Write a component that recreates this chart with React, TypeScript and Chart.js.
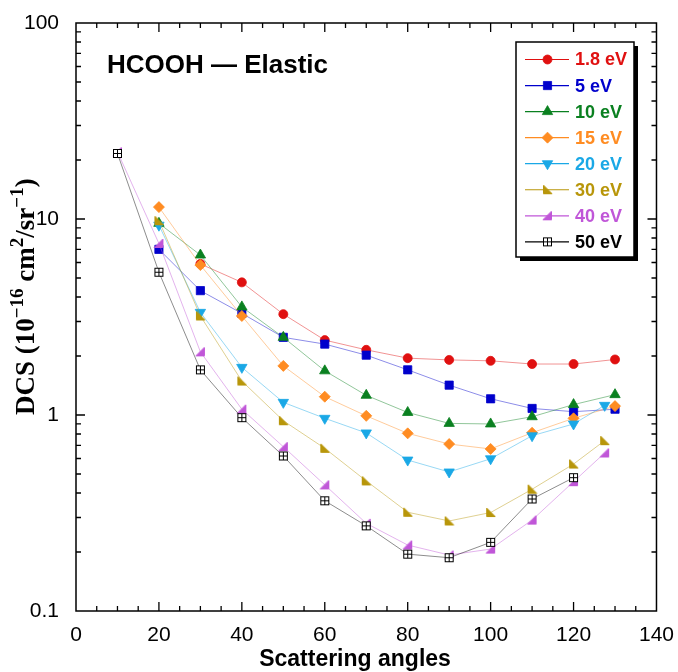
import React, { useEffect, useRef } from 'react';
import { Chart, registerables } from 'chart.js';
import { drawPoint } from 'chart.js/helpers';

Chart.register(...registerables);

// ---- data ----
const angles_1_8 = [30, 40, 50, 60, 70, 80, 90, 100, 110, 120, 130];
const dcs_1_8 = [5.9, 4.75, 3.27, 2.41, 2.15, 1.95, 1.91, 1.89, 1.82, 1.82, 1.92];

const angles_5 = [20, 30, 40, 50, 60, 70, 80, 90, 100, 110, 120, 130];
const dcs_5 = [7.0, 4.31, 3.3, 2.49, 2.3, 2.02, 1.7, 1.42, 1.21, 1.08, 1.04, 1.07];

const angles_10 = [20, 30, 40, 50, 60, 70, 80, 90, 100, 110, 120, 130];
const dcs_10 = [9.5, 6.55, 3.56, 2.49, 1.68, 1.26, 1.03, 0.906, 0.9, 0.98, 1.13, 1.27];

const angles_15 = [20, 30, 40, 50, 60, 70, 80, 90, 100, 110, 120, 130];
const dcs_15 = [11.5, 5.82, 3.2, 1.78, 1.24, 0.99, 0.806, 0.711, 0.671, 0.812, 0.962, 1.11];

const angles_20 = [20, 30, 40, 50, 60, 70, 80, 90, 100, 110, 120, 127.5];
const dcs_20 = [9.3, 3.34, 1.75, 1.16, 0.962, 0.81, 0.589, 0.512, 0.598, 0.784, 0.9, 1.12];

const angles_30 = [20, 30, 40, 50, 60, 70, 80, 90, 100, 110, 120, 127.5];
const dcs_30 = [9.8, 3.2, 1.49, 0.935, 0.676, 0.461, 0.319, 0.288, 0.318, 0.418, 0.562, 0.74];

const angles_40 = [10, 20, 30, 40, 50, 60, 70, 80, 90, 100, 110, 120, 127.5];
const dcs_40 = [22, 7.5, 2.1, 1.07, 0.689, 0.44, 0.28, 0.217, 0.193, 0.207, 0.291, 0.457, 0.64];

const angles_50 = [10, 20, 30, 40, 50, 60, 70, 80, 90, 100, 110, 120];
const dcs_50 = [21.6, 5.35, 1.7, 0.969, 0.618, 0.365, 0.272, 0.195, 0.187, 0.224, 0.373, 0.479];

const seriesLabels = ['1.8 eV', '5 eV', '10 eV', '15 eV', '20 eV', '30 eV', '40 eV', '50 eV'];
const seriesAngles = [angles_1_8, angles_5, angles_10, angles_15, angles_20, angles_30, angles_40, angles_50];
const seriesValues = [dcs_1_8, dcs_5, dcs_10, dcs_15, dcs_20, dcs_30, dcs_40, dcs_50];
const seriesColors = ['#e01010', '#0000cc', '#0a8020', '#ff8c22', '#1aa8e6', '#b8960a', '#c056d8', '#000000'];

const xTickValues = [0, 20, 40, 60, 80, 100, 120, 140];
const yTickValues = [0.1, 1, 10, 100];

const titleText = 'HCOOH \u2014 Elastic';
const xTitle = 'Scattering angles';

function rgba(hex: string, a: number) {
  const n = parseInt(hex.slice(1), 16);
  return `rgba(${(n >> 16) & 255},${(n >> 8) & 255},${n & 255},${a})`;
}

function makeMarker(kind: string, color: string): HTMLCanvasElement {
  const c = document.createElement('canvas');
  c.width = 11;
  c.height = 11;
  const g = c.getContext('2d')!;
  g.fillStyle = color;
  g.strokeStyle = color;
  g.lineWidth = 1;
  if (kind === 'll') {
    g.beginPath();
    g.moveTo(1.5, 1);
    g.lineTo(1.5, 9.5);
    g.lineTo(10, 9.5);
    g.closePath();
    g.fill();
    g.stroke();
  } else if (kind === 'lr') {
    g.beginPath();
    g.moveTo(9.5, 1);
    g.lineTo(9.5, 9.5);
    g.lineTo(1, 9.5);
    g.closePath();
    g.fill();
    g.stroke();
  } else {
    g.fillStyle = '#ffffff';
    g.fillRect(1.5, 1.5, 8, 8);
    g.strokeStyle = color;
    g.strokeRect(1.5, 1.5, 8, 8);
    g.beginPath();
    g.moveTo(5.5, 1.5);
    g.lineTo(5.5, 9.5);
    g.moveTo(1.5, 5.5);
    g.lineTo(9.5, 5.5);
    g.stroke();
  }
  return c;
}

export default function App() {
  const ref = useRef<HTMLCanvasElement | null>(null);

  useEffect(() => {
    const canvas = ref.current!;
    const styles: any[] = [
      { pointStyle: 'circle', radius: 4.5, rotation: 0 },
      { pointStyle: 'rect', radius: 5.8, rotation: 0 },
      { pointStyle: 'triangle', radius: 6, rotation: 0 },
      { pointStyle: 'rectRot', radius: 5.5, rotation: 0 },
      { pointStyle: 'triangle', radius: 6, rotation: 180 },
      { pointStyle: makeMarker('ll', seriesColors[5]), radius: 5, rotation: 0 },
      { pointStyle: makeMarker('lr', seriesColors[6]), radius: 5, rotation: 0 },
      { pointStyle: makeMarker('box', seriesColors[7]), radius: 5, rotation: 0 },
    ];
    const N = seriesLabels.length;
    const datasets = seriesLabels.map((label, i) => ({
      label,
      data: seriesAngles[i].map((x, j) => ({ x, y: seriesValues[i][j] })),
      borderColor: rgba(seriesColors[i], 0.45),
      borderWidth: 1,
      backgroundColor: seriesColors[i],
      pointStyle: styles[i].pointStyle,
      pointRadius: styles[i].radius,
      pointRotation: styles[i].rotation,
      pointBackgroundColor: seriesColors[i],
      pointBorderColor: seriesColors[i],
      pointBorderWidth: 0.8,
      tension: 0,
      fill: false,
      order: N - i,
    }));

    const decorPlugin = {
      id: 'decor',
      afterDraw(chart: any) {
        const ctx = chart.ctx as CanvasRenderingContext2D;
        const { left, right, top, bottom } = chart.chartArea;
        const xs = chart.scales.x;
        const ys = chart.scales.y;
        ctx.save();
        ctx.strokeStyle = '#000';
        ctx.lineWidth = 1.3;
        // ticks
        ctx.beginPath();
        for (let v = 5; v < 140; v += 5) {
          const px = xs.getPixelForValue(v);
          const len = v % 20 === 0 ? 9 : 5;
          ctx.moveTo(px, bottom);
          ctx.lineTo(px, bottom - len);
          ctx.moveTo(px, top);
          ctx.lineTo(px, top + len);
        }
        for (const d of [0.1, 1, 10]) {
          for (let m = 1; m <= 9; m++) {
            const v = d * m;
            if (d === 0.1 && m === 1) continue;
            const py = ys.getPixelForValue(v);
            const len = m === 1 ? 9 : 5;
            ctx.moveTo(left, py);
            ctx.lineTo(left + len, py);
            ctx.moveTo(right, py);
            ctx.lineTo(right - len, py);
          }
        }
        ctx.stroke();
        ctx.lineWidth = 1.5;
        ctx.strokeRect(left, top, right - left, bottom - top);

        // title
        ctx.fillStyle = '#000';
        ctx.font = 'bold 26px "Liberation Sans", Arial, sans-serif';
        ctx.textAlign = 'left';
        ctx.textBaseline = 'alphabetic';
        ctx.fillText(titleText, 107, 73);

        // x title
        ctx.font = 'bold 23px "Liberation Sans", Arial, sans-serif';
        ctx.textAlign = 'center';
        ctx.fillText(xTitle, 355, 666);

        // y title (rich text)
        ctx.save();
        ctx.translate(34, 415);
        ctx.rotate(-Math.PI / 2);
        ctx.textAlign = 'left';
        const big = 'bold 27px "Liberation Serif", "Times New Roman", serif';
        const sup = 'bold 19px "Liberation Serif", "Times New Roman", serif';
        const parts: [string, boolean][] = [
          ['DCS (10', false],
          ['\u221216', true],
          [' cm', false],
          ['2', true],
          ['/sr', false],
          ['\u22121', true],
          [')', false],
        ];
        let cx = 0;
        for (const [t, s] of parts) {
          ctx.font = s ? sup : big;
          ctx.fillText(t, cx, s ? -11 : 0);
          cx += ctx.measureText(t).width;
        }
        ctx.restore();

        // legend
        const bx = 516, by = 42, bw = 118, bh = 215;
        ctx.fillStyle = '#000';
        ctx.fillRect(bx + 4, by + 4, bw, bh);
        ctx.fillStyle = '#fff';
        ctx.fillRect(bx, by, bw, bh);
        ctx.lineWidth = 1.5;
        ctx.strokeStyle = '#000';
        ctx.strokeRect(bx, by, bw, bh);
        ctx.font = 'bold 18px "Liberation Sans", Arial, sans-serif';
        ctx.textBaseline = 'middle';
        ctx.textAlign = 'left';
        for (let i = 0; i < N; i++) {
          const y = 59.5 + 26.05 * i;
          ctx.strokeStyle = seriesColors[i];
          ctx.lineWidth = 1.2;
          ctx.beginPath();
          ctx.moveTo(525, y);
          ctx.lineTo(569, y);
          ctx.stroke();
          ctx.fillStyle = seriesColors[i];
          ctx.strokeStyle = seriesColors[i];
          ctx.lineWidth = 0.8;
          drawPoint(ctx, { pointStyle: styles[i].pointStyle, radius: styles[i].radius, rotation: styles[i].rotation, borderWidth: 0.8 } as any, 547.5, y);
          ctx.fillStyle = seriesColors[i];
          ctx.fillText(seriesLabels[i], 575, y + 1);
        }
        ctx.restore();
      },
    };

    const chart = new Chart(canvas, {
      type: 'line',
      data: { datasets: datasets as any },
      options: {
        responsive: false,
        animation: false,
        events: [],
        layout: { padding: { left: 0, right: 21, top: 23, bottom: 0 } },
        plugins: { legend: { display: false }, tooltip: { enabled: false }, title: { display: false } },
        scales: {
          x: {
            type: 'linear',
            min: 0,
            max: 140,
            grid: { display: false },
            border: { display: false },
            afterBuildTicks: (s: any) => {
              s.ticks = xTickValues.map((v) => ({ value: v }));
            },
            ticks: {
              autoSkip: false,
              maxRotation: 0,
              padding: 4,
              color: '#000',
              font: { family: '"Liberation Sans", Arial, sans-serif', size: 21 },
            },
            afterFit: (s: any) => {
              s.height = 61;
            },
          },
          y: {
            type: 'logarithmic',
            min: 0.1,
            max: 100,
            grid: { display: false },
            border: { display: false },
            afterBuildTicks: (s: any) => {
              s.ticks = yTickValues.map((v) => ({ value: v }));
            },
            ticks: {
              autoSkip: false,
              padding: 9,
              color: '#000',
              font: { family: '"Liberation Sans", Arial, sans-serif', size: 21 },
              callback: (v: any) => String(v),
            },
            afterFit: (s: any) => {
              s.width = 76;
            },
          },
        },
      },
      plugins: [decorPlugin],
    });
    return () => chart.destroy();
  }, []);

  return (
    <div style={{ position: 'fixed', left: 0, top: 0, width: 678, height: 672, background: '#fff' }}>
      <canvas ref={ref} width={678} height={672} style={{ display: 'block' }} />
    </div>
  );
}
